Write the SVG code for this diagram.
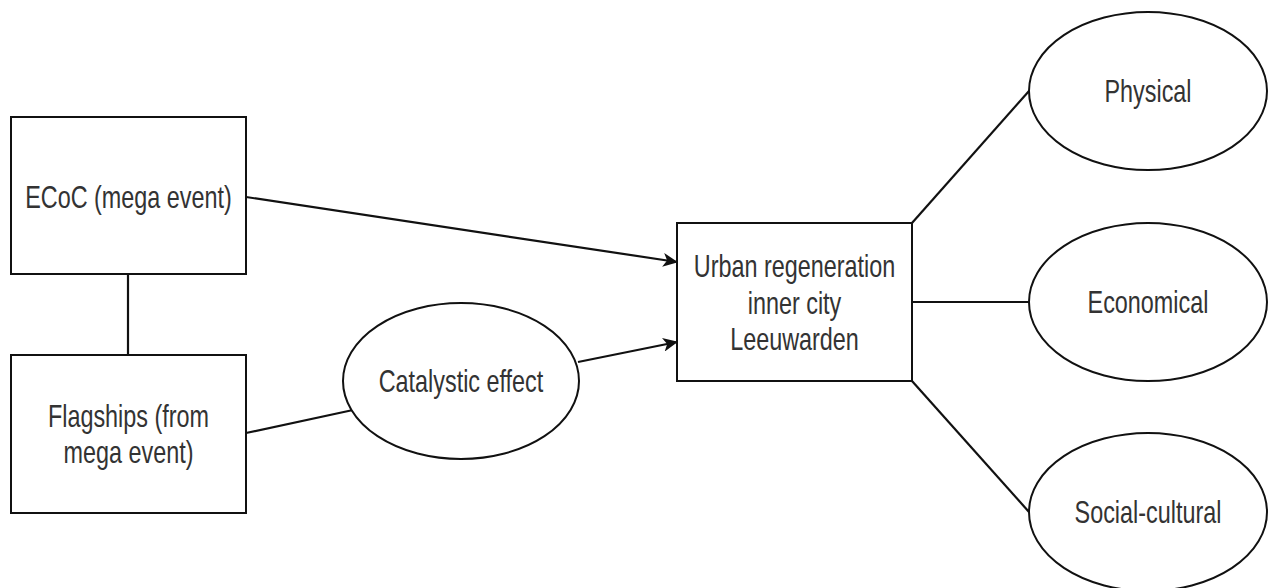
<svg xmlns="http://www.w3.org/2000/svg" width="1268" height="588" viewBox="0 0 1268 588">
<defs>
<style>
.box{fill:#fff;stroke:#111;stroke-width:2}
.edge{fill:none;stroke:#111;stroke-width:2.2}
.lbl{font-family:"Liberation Sans",Arial,sans-serif;font-size:23.4px;fill:#333;text-anchor:middle}
</style>
<marker id="arr" viewBox="0 0 15 14" refX="14" refY="7" markerWidth="15" markerHeight="14" markerUnits="userSpaceOnUse" orient="auto">
<path d="M0,0 L15,7 L0,14 L4,7 z" fill="#111"/>
</marker>
</defs>
<rect width="1268" height="588" fill="#fff"/>
<g id="connectors">
<line class="edge" x1="128" y1="274" x2="128" y2="355"/>
<line class="edge" x1="246" y1="197" x2="677" y2="262" marker-end="url(#arr)"/>
<line class="edge" x1="246" y1="433" x2="353" y2="410"/>
<line class="edge" x1="578" y1="362" x2="677" y2="342" marker-end="url(#arr)"/>
<line class="edge" x1="912" y1="223" x2="1029" y2="91"/>
<line class="edge" x1="912" y1="302" x2="1029" y2="302"/>
<line class="edge" x1="912" y1="381" x2="1029" y2="512"/>
</g>
<g id="ecoc">
<rect class="box" x="11" y="117" width="235" height="157"/>
<text class="lbl" transform="translate(128.5,208) scale(1,1.35)">ECoC (mega event)</text>
</g>
<g id="flagships">
<rect class="box" x="11" y="355" width="235" height="158"/>
<text class="lbl" transform="translate(128.5,427) scale(1,1.35)">Flagships (from</text>
<text class="lbl" transform="translate(128.5,463) scale(1,1.35)">mega event)</text>
</g>
<g id="catalystic">
<ellipse class="box" cx="461" cy="381" rx="118" ry="78"/>
<text class="lbl" transform="translate(461,392) scale(1,1.35)">Catalystic effect</text>
</g>
<g id="urban">
<rect class="box" x="677" y="223" width="235" height="158"/>
<text class="lbl" transform="translate(794.5,277) scale(1,1.35)">Urban regeneration</text>
<text class="lbl" transform="translate(794.5,314) scale(1,1.35)">inner city</text>
<text class="lbl" transform="translate(794.5,350) scale(1,1.35)">Leeuwarden</text>
</g>
<g id="physical">
<ellipse class="box" cx="1148" cy="91" rx="119" ry="79"/>
<text class="lbl" transform="translate(1148,102) scale(1,1.35)">Physical</text>
</g>
<g id="economical">
<ellipse class="box" cx="1148" cy="302" rx="119" ry="79"/>
<text class="lbl" transform="translate(1148,313) scale(1,1.35)">Economical</text>
</g>
<g id="social">
<ellipse class="box" cx="1148" cy="512" rx="119" ry="79"/>
<text class="lbl" transform="translate(1148,523) scale(1,1.35)">Social-cultural</text>
</g>
</svg>
